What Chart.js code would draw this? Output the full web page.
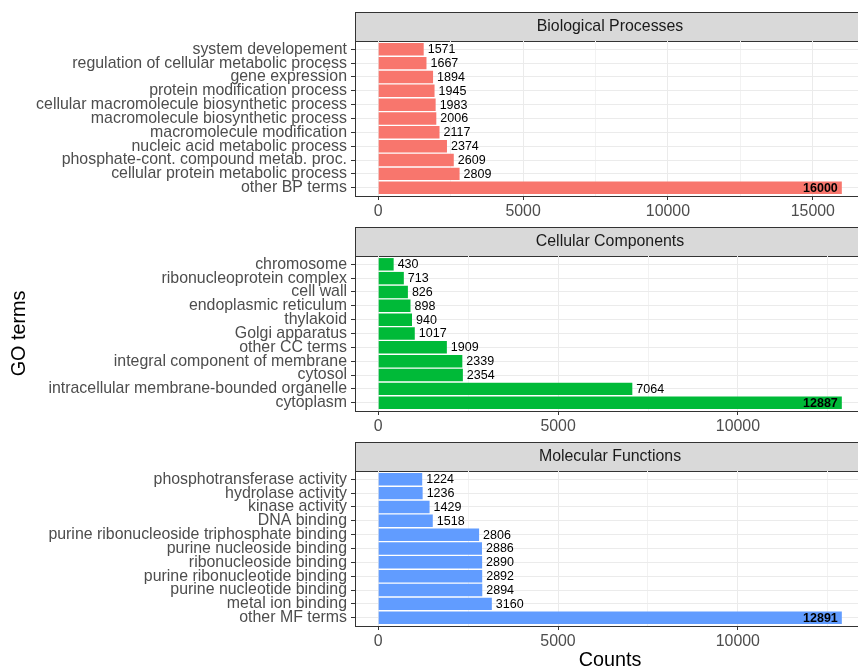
<!DOCTYPE html>
<html>
<head>
<meta charset="utf-8">
<title>GO terms</title>
<script src="https://cdn.jsdelivr.net/npm/chart.js@4/dist/chart.umd.min.js"></script>
<style>
    html, body { margin: 0; padding: 0; background: #ffffff; overflow: hidden; width: 858px; height: 668px; }
    canvas { position: absolute; left: 0; }
</style>
</head>
<body>
<canvas id="bp" width="880" height="230" style="top:0px"></canvas>
<canvas id="cc" width="880" height="230" style="top:215px"></canvas>
<canvas id="mf" width="880" height="240" style="top:430px"></canvas>
<script>
// termos de cima para baixo em cada painel
var bpTerms = ['system developement', 'regulation of cellular metabolic process', 'gene expression',
    'protein modification process', 'cellular macromolecule biosynthetic process',
    'macromolecule biosynthetic process', 'macromolecule modification', 'nucleic acid metabolic process',
    'phosphate-cont. compound metab. proc.', 'cellular protein metabolic process', 'other BP terms'];
var bpCounts = [1571, 1667, 1894, 1945, 1983, 2006, 2117, 2374, 2609, 2809, 16000];

var ccTerms = ['chromosome', 'ribonucleoprotein complex', 'cell wall', 'endoplasmic reticulum', 'thylakoid',
    'Golgi apparatus', 'other CC terms', 'integral component of membrane', 'cytosol',
    'intracellular membrane-bounded organelle', 'cytoplasm'];
var ccCounts = [430, 713, 826, 898, 940, 1017, 1909, 2339, 2354, 7064, 12887];

var mfTerms = ['phosphotransferase activity', 'hydrolase activity', 'kinase activity', 'DNA binding',
    'purine ribonucleoside triphosphate binding', 'purine nucleoside binding', 'ribonucleoside binding',
    'purine ribonucleotide binding', 'purine nucleotide binding', 'metal ion binding', 'other MF terms'];
var mfCounts = [1224, 1236, 1429, 1518, 2806, 2886, 2890, 2892, 2894, 3160, 12891];

var panelTitles = ['Biological Processes', 'Cellular Components', 'Molecular Functions'];
var panelColors = ['#F8766D', '#00BA38', '#619CFF'];
var tickStep = 2500; // linhas menores a cada 2500, rotulo a cada 5000

var fonte = '"Liberation Sans", Arial, sans-serif';
Chart.defaults.font.family = fonte;

// faixa cinza com o nome do painel, acima da area do grafico
var faixa = {
    id: 'faixa',
    beforeDraw: function (chart, args, opts) {
        var a = chart.chartArea;
        var ctx = chart.ctx;
        var topo = a.top - 29;
        ctx.save();
        ctx.fillStyle = '#d9d9d9';
        ctx.fillRect(a.left, topo, a.right - a.left, 29);
        ctx.strokeStyle = '#333333';
        ctx.lineWidth = 1;
        ctx.strokeRect(a.left + 0.5, topo + 0.5, a.right - a.left, 29);
        ctx.fillStyle = '#1a1a1a';
        ctx.font = '15.9px ' + fonte;
        ctx.textAlign = 'center';
        ctx.textBaseline = 'middle';
        ctx.fillText(opts.texto, (a.left + a.right) / 2, topo + 15);
        ctx.restore();
    }
};

// numero ao lado de cada barra; o maior vai em negrito dentro da barra
var rotulos = {
    id: 'rotulos',
    afterDatasetsDraw: function (chart) {
        var ctx = chart.ctx;
        var dados = chart.data.datasets[0].data;
        var maior = 0;
        dados.forEach(function (d) { if (d.x > maior) maior = d.x; });
        ctx.save();
        ctx.fillStyle = '#000000';
        ctx.textBaseline = 'middle';
        chart.getDatasetMeta(0).data.forEach(function (barra, i) {
            var v = dados[i].x;
            if (v === maior) {
                ctx.font = 'bold 12.5px ' + fonte;
                ctx.textAlign = 'right';
                ctx.fillText(String(v), barra.x - 4, barra.y + 0.5);
            } else {
                ctx.font = '12.5px ' + fonte;
                ctx.textAlign = 'left';
                ctx.fillText(String(v), barra.x + 4, barra.y + 0.5);
            }
        });
        ctx.restore();
    }
};

function painel(id, titulo, termos, contagens, cor, extra) {
    var maxVal = Math.max.apply(null, contagens);
    var altura = document.getElementById(id).height;
    var ctx = document.getElementById(id).getContext('2d');

    var escalaY = {
        type: 'linear',
        reverse: true,
        offset: false,
        min: -0.6,
        max: termos.length - 0.4,
        bounds: 'data',
        afterBuildTicks: function (scale) {
            scale.ticks = termos.map(function (t, i) { return { value: i }; });
        },
        afterFit: function (scale) { scale.width = 355; },
        ticks: {
            autoSkip: false,
            padding: 4,
            color: '#4d4d4d',
            font: { size: 15.9 },
            callback: function (v) { return termos[v]; }
        },
        grid: { offset: false, color: '#ebebeb', lineWidth: 1, tickLength: 4, tickColor: '#333333' },
        border: { display: true, color: '#333333', width: 1 },
        title: { display: false }
    };
    if (extra.tituloY) {
        escalaY.title = {
            display: true, text: extra.tituloY, color: '#000000',
            font: { size: 19.8, lineHeight: 1 }, padding: { top: 10, bottom: 0 }
        };
    }

    var escalaX = {
        type: 'linear',
        offset: false,
        min: -0.05 * maxVal,
        max: 1.05 * maxVal,
        bounds: 'data',
        afterBuildTicks: function (scale) {
            var t = [];
            for (var v = 0; v <= scale.max; v += tickStep) t.push({ value: v });
            scale.ticks = t;
        },
        afterFit: function (scale) { scale.height = altura - 196; },
        ticks: {
            autoSkip: false,
            maxRotation: 0,
            padding: 2,
            color: '#4d4d4d',
            font: { size: 15.9 },
            callback: function (v) { return v % 5000 === 0 ? String(v) : ''; }
        },
        grid: {
            offset: false,
            color: function (c) { return c.tick && c.tick.value % 5000 === 0 ? '#ebebeb' : '#f2f2f2'; },
            lineWidth: 1,
            tickLength: 4,
            tickColor: function (c) { return c.tick && c.tick.value % 5000 === 0 ? '#333333' : 'rgba(0,0,0,0)'; }
        },
        border: { display: true, color: '#333333', width: 1 },
        title: { display: false }
    };
    if (extra.tituloX) {
        escalaX.title = {
            display: true, text: extra.tituloX, color: '#000000',
            font: { size: 19.8, lineHeight: 1 }, padding: { top: 0, bottom: 0 }
        };
    }

    return new Chart(ctx, {
        type: 'bar',
        data: {
            datasets: [{
                data: contagens.map(function (v, i) { return { x: v, y: i }; }),
                backgroundColor: cor,
                borderWidth: 0,
                barPercentage: 0.9,
                categoryPercentage: 1
            }]
        },
        options: {
            indexAxis: 'y',
            responsive: false,
            animation: false,
            layout: { padding: { top: 41, right: 15, bottom: 0, left: 0 } },
            scales: { x: escalaX, y: escalaY },
            plugins: {
                legend: { display: false },
                tooltip: { enabled: false },
                faixa: { texto: titulo }
            }
        },
        plugins: [faixa, rotulos]
    });
}

painel('bp', panelTitles[0], bpTerms, bpCounts, panelColors[0], {});
painel('cc', panelTitles[1], ccTerms, ccCounts, panelColors[1], { tituloY: 'GO terms' });
painel('mf', panelTitles[2], mfTerms, mfCounts, panelColors[2], { tituloX: 'Counts' });
</script>
</body>
</html>
